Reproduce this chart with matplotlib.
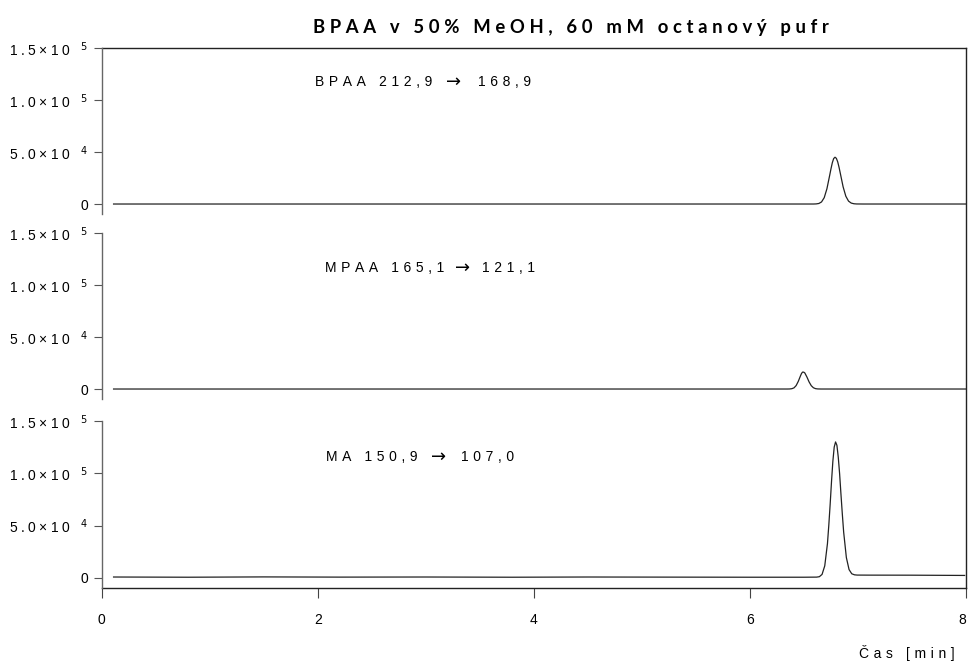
import matplotlib
matplotlib.use("Agg")
import matplotlib.pyplot as plt

plt.rcParams['font.family'] = ['Liberation Sans', 'DejaVu Sans']
plt.rcParams['mathtext.fontset'] = 'dejavusans'

# chromatogram traces, time in min, signal in counts
bpaa_t = [0.11, 1.0, 2.0, 3.0, 4.0, 5.0, 6.0, 6.59, 6.615, 6.64, 6.665, 6.69, 6.715,
          6.74, 6.7525, 6.765, 6.7775, 6.79, 6.8025, 6.815, 6.8275, 6.84, 6.865,
          6.89, 6.915, 6.94, 6.965, 6.99, 7.05, 7.5, 8.0]
bpaa_i = [0, 0, 0, 0, 0, 0, 0, 0, 100, 500, 1980, 6100, 14650,
          27300, 33800, 39700, 43700, 45000, 43900, 40500, 35200, 29000, 16500,
          7500, 2800, 900, 250, 50, 0, 0, 0]

mpaa_t = [0.11, 1.0, 2.0, 3.0, 4.0, 5.0, 6.0, 6.35, 6.37, 6.39, 6.41, 6.43, 6.45,
          6.47, 6.48, 6.49, 6.50, 6.51, 6.53, 6.55, 6.57, 6.59, 6.61, 6.63, 6.66,
          7.0, 7.5, 8.0]
mpaa_i = [0, 0, 0, 0, 0, 0, 0, 0, 50, 300, 1100, 3300, 7400,
          12600, 15000, 16300, 16200, 15500, 11500, 6800, 3200, 1200, 350, 80, 0,
          0, 0, 0]

ma_t = [0.11, 0.8, 1.5, 2.2, 3.0, 3.8, 4.5, 5.2, 6.0, 6.5, 6.62, 6.645, 6.67,
        6.695, 6.72, 6.7325, 6.745, 6.7575, 6.77, 6.7825, 6.795, 6.8075, 6.82,
        6.8325, 6.845, 6.8575, 6.87, 6.895, 6.92, 6.945, 6.97, 6.995, 7.1, 7.5, 7.99]
ma_i = [900, 700, 1000, 800, 900, 700, 900, 800, 700, 700, 800, 1200, 3400,
        11600, 32900, 50500, 70400, 92100, 111500, 125100, 130000, 126800, 115500,
        99600, 80000, 61200, 43800, 19500, 8000, 4000, 3000, 2750, 2700, 2650, 2400]

traces = [(bpaa_t, bpaa_i), (mpaa_t, mpaa_i), (ma_t, ma_i)]
precursors = ["BPAA 212,9", "MPAA 165,1", "MA 150,9"]
products = ["168,9", "121,1", "107,0"]
label_pos = [(315, 86), (325, 272), (326, 461)]   # left edge, baseline (px)
arrow_gaps = [(14, 17), (11, 12), (14, 14)]

y_ticks = [0, 50000, 100000, 150000]
y_tick_labels = ["0", "5.0\u00d710 $^{4}$", "1.0\u00d710 $^{5}$", "1.5\u00d710 $^{5}$"]
x_ticks = [0, 2, 4, 6, 8]

title = "BPAA v 50% MeOH, 60 mM octanový pufr"
xlabel = "Čas [min]"

W, H = 968, 664


def track(s, gap="\u2005"):
    # spread the letters out, leave mathtext chunks alone
    out = []
    in_math = False
    for ch in s:
        if ch == "$":
            in_math = not in_math
            out.append(ch)
            continue
        out.append(ch)
        if not in_math:
            out.append(gap)
    return "".join(out).rstrip(gap)


def fx(px):
    return px / W


def fy(py):
    return 1 - py / H


fig = plt.figure(figsize=(W / 100, H / 100), dpi=100)
renderer = fig.canvas.get_renderer()
left, right = 101.7, 965.7

# outer frame carries the time axis, top and right border
frame = fig.add_axes([fx(left), fy(588), fx(right - left), (588 - 48) / H])
frame.set_xlim(0, 8)
frame.set_ylim(0, 1)
frame.set_facecolor("none")
frame.spines['left'].set_visible(False)
for s in ['top', 'right', 'bottom']:
    frame.spines[s].set_linewidth(1.0)
    frame.spines[s].set_color('#222222')
frame.set_yticks([])
frame.set_xticks(x_ticks)
frame.set_xticklabels([str(v) for v in x_ticks])
frame.tick_params(axis='x', direction='out', length=7, width=0.8, color='#444444',
                  pad=11, labelsize=10)
frame.get_xticklabels()[-1].set_horizontalalignment('right')

panels = [(48, 214), (233, 399), (421, 588)]
for (top, bot), (t, y) in zip(panels, traces):
    ax = fig.add_axes([fx(left), fy(bot), fx(right - left), (bot - top) / H])
    ax.set_facecolor("none")
    ax.set_xlim(0, 8)
    ax.set_ylim(-9600, 150000)
    for s in ['top', 'right', 'bottom']:
        ax.spines[s].set_visible(False)
    ax.spines['left'].set_color('#666666')
    ax.spines['left'].set_linewidth(1.0)
    ax.set_xticks([])
    ax.set_yticks(y_ticks)
    ax.set_yticklabels([track(v) for v in y_tick_labels])
    ax.tick_params(axis='y', direction='out', length=6, width=0.8, color='#555555',
                   pad=4, labelsize=10)
    ax.plot(t, y, color='#222222', lw=0.9)

# transition labels: precursor -> product, arrow set in a wider font
for pre, prod, (lx, ly), (g1, g2) in zip(precursors, products, label_pos, arrow_gaps):
    t1 = fig.text(fx(lx), fy(ly), track(pre, "\u2004"), fontsize=10, va='baseline')
    x1 = t1.get_window_extent(renderer).x1
    t2 = fig.text(fx(x1 + g1), fy(ly + 1), "\u2192", fontsize=13,
                  family='DejaVu Sans', va='baseline')
    x2 = t2.get_window_extent(renderer).x1
    fig.text(fx(x2 + g2), fy(ly), track(prod, "\u2004"), fontsize=10, va='baseline')

fig.text(fx(313), fy(28), track(title, "\u2005"), fontsize=13.3, fontweight='bold',
         family=['Lato', 'DejaVu Sans'], va='center', ha='left')
fig.text(fx(955), fy(653), track(xlabel, "\u2004"), fontsize=10, va='center', ha='right')

fig.savefig("out.png", dpi=100)
